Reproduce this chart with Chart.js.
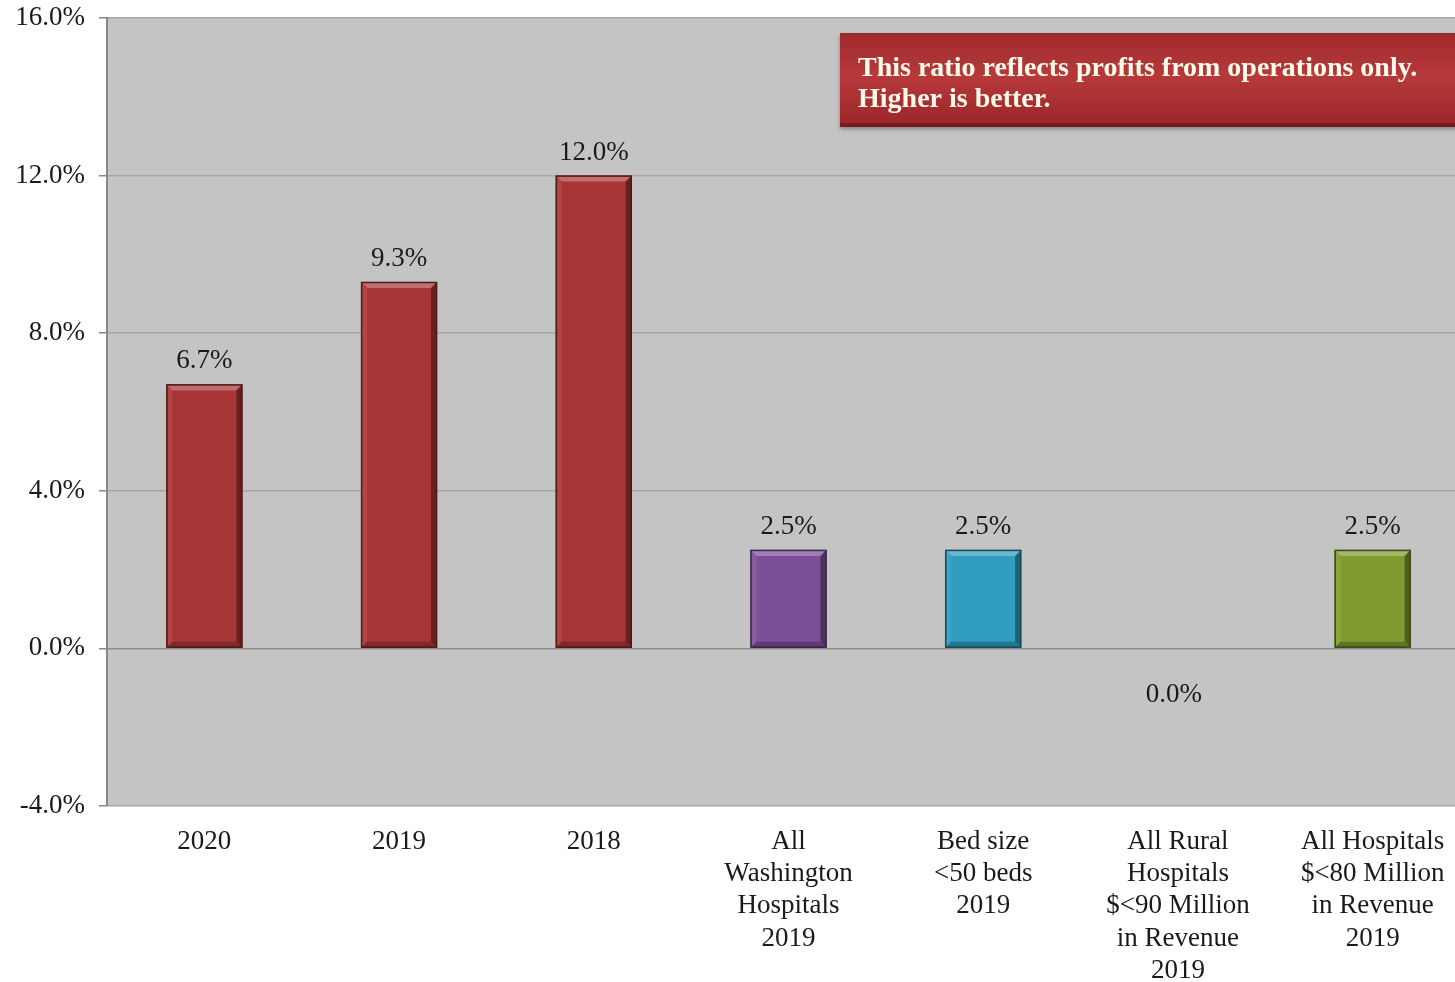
<!DOCTYPE html>
<html>
<head>
<meta charset="utf-8">
<script src="https://cdn.jsdelivr.net/npm/chart.js@4.4.1/dist/chart.umd.min.js"></script>
<style>
  html, body { margin: 0; padding: 0; background: #ffffff; overflow: hidden; }
  #wrap { position: relative; width: 1470px; height: 982px; }
  #chart { display: block; }
</style>
</head>
<body>
<div id="wrap"><canvas id="chart" width="1470" height="982"></canvas></div>
<script>
// Operating margin by year and by peer group
const categories = [
  ['2020'],
  ['2019'],
  ['2018'],
  ['All', 'Washington', 'Hospitals', '2019'],
  ['Bed size', '<50 beds', '2019'],
  ['All Rural', 'Hospitals', '$<90 Million', 'in Revenue', '2019'],
  ['All Hospitals', '$<80 Million', 'in Revenue', '2019']
];
const operatingMargin = [6.7, 9.3, 12.0, 2.5, 2.5, 0.0, 2.5];
const barColors = ['#a83535', '#a83535', '#a83535', '#7c4f99', '#2f9dc0', '#b03a3a', '#809b30'];
const yTickValues = [-4, 0, 4, 8, 12, 16];
const noteLines = ['This ratio reflects profits from operations only.', 'Higher is better.'];

const SERIF = '"Liberation Serif", "Times New Roman", serif';

function shade(hex, amt) {
  const n = parseInt(hex.slice(1), 16);
  let r = (n >> 16) & 255, g = (n >> 8) & 255, b = n & 255;
  const f = c => Math.max(0, Math.min(255, Math.round(amt >= 0 ? c + (255 - c) * amt : c * (1 + amt))));
  return `rgb(${f(r)},${f(g)},${f(b)})`;
}

// Grey plot background
const plotBackground = {
  id: 'plotBackground',
  beforeDraw(chart) {
    const { ctx, chartArea: a } = chart;
    ctx.save();
    ctx.fillStyle = '#c4c4c4';
    ctx.fillRect(a.left, a.top, a.right - a.left, a.bottom - a.top);
    ctx.restore();
  }
};

// Bevelled edges on each bar
const bevel = {
  id: 'bevel',
  afterDatasetsDraw(chart) {
    const { ctx } = chart;
    const meta = chart.getDatasetMeta(0);
    meta.data.forEach((bar, i) => {
      const { x, y, base, width } = bar.getProps(['x', 'y', 'base', 'width'], true);
      const h = base - y;
      if (h < 1) return;
      const col = barColors[i];
      const l = x - width / 2, r = x + width / 2, t = y, b = base;
      const e = 6;
      ctx.save();
      ctx.fillStyle = shade(col, 0.28);
      ctx.beginPath();
      ctx.moveTo(l, t); ctx.lineTo(r, t); ctx.lineTo(r - e, t + e); ctx.lineTo(l + e, t + e); ctx.closePath();
      ctx.fill();
      ctx.fillStyle = shade(col, 0.08);
      ctx.beginPath();
      ctx.moveTo(l, t); ctx.lineTo(l + e, t + e); ctx.lineTo(l + e, b - e); ctx.lineTo(l, b); ctx.closePath();
      ctx.fill();
      ctx.fillStyle = shade(col, -0.38);
      ctx.beginPath();
      ctx.moveTo(r, t); ctx.lineTo(r, b); ctx.lineTo(r - e, b - e); ctx.lineTo(r - e, t + e); ctx.closePath();
      ctx.fill();
      ctx.fillStyle = shade(col, -0.25);
      ctx.beginPath();
      ctx.moveTo(l, b); ctx.lineTo(r, b); ctx.lineTo(r - e, b - e); ctx.lineTo(l + e, b - e); ctx.closePath();
      ctx.fill();
      ctx.strokeStyle = shade(col, -0.55);
      ctx.lineWidth = 1.5;
      ctx.strokeRect(l + 0.5, t + 0.5, width - 1, h - 1);
      ctx.restore();
    });
  }
};

// Value labels above each bar (below the baseline for a zero value)
const valueLabels = {
  id: 'valueLabels',
  afterDatasetsDraw(chart) {
    const { ctx } = chart;
    const meta = chart.getDatasetMeta(0);
    ctx.save();
    ctx.font = '27px ' + SERIF;
    ctx.fillStyle = '#1a1a1a';
    ctx.textAlign = 'center';
    ctx.textBaseline = 'alphabetic';
    meta.data.forEach((bar, i) => {
      const v = operatingMargin[i];
      const { x, y } = bar.getProps(['x', 'y'], true);
      const txt = v.toFixed(1) + '%';
      if (v > 0) ctx.fillText(txt, x, y - 16);
      else ctx.fillText(txt, x - 4, y + 54);
    });
    ctx.restore();
  }
};

// Note box in the upper right
const noteBox = {
  id: 'noteBox',
  afterDraw(chart) {
    const { ctx, chartArea: a } = chart;
    const bx = 840, by = 33, bw = a.right - bx, bh = 94;
    ctx.save();
    ctx.shadowColor = 'rgba(0,0,0,0.35)';
    ctx.shadowBlur = 4;
    ctx.shadowOffsetY = 2;
    const g = ctx.createLinearGradient(0, by, 0, by + bh);
    g.addColorStop(0, '#9e2a2c');
    g.addColorStop(0.45, '#b7393b');
    g.addColorStop(1, '#9a2629');
    ctx.fillStyle = g;
    ctx.fillRect(bx, by, bw, bh);
    ctx.shadowColor = 'transparent';
    ctx.fillStyle = '#7a1a1c';
    ctx.fillRect(bx, by + bh - 4, bw, 4);
    ctx.fillStyle = '#fffbea';
    ctx.font = 'bold 28px ' + SERIF;
    ctx.textAlign = 'left';
    ctx.textBaseline = 'alphabetic';
    ctx.fillText(noteLines[0], 858, 76);
    ctx.fillText(noteLines[1], 858, 107);
    ctx.restore();
  }
};

new Chart(document.getElementById('chart'), {
  type: 'bar',
  data: {
    labels: categories,
    datasets: [{
      data: operatingMargin,
      backgroundColor: barColors,
      borderWidth: 0,
      barPercentage: 0.39,
      categoryPercentage: 1
    }]
  },
  options: {
    responsive: false,
    animation: false,
    devicePixelRatio: 1,
    layout: { padding: { top: 18, left: 0, right: 0, bottom: 0 } },
    plugins: { legend: { display: false }, tooltip: { enabled: false } },
    scales: {
      x: {
        grid: { display: false, drawTicks: false },
        border: { display: false },
        ticks: {
          color: '#1a1a1a',
          padding: 20,
          maxRotation: 0,
          autoSkip: false,
          font: { family: SERIF, size: 27, lineHeight: 1.19 }
        },
        afterFit(scale) { scale.height = 176; scale.paddingLeft = 0; scale.paddingRight = 0; }
      },
      y: {
        min: -4,
        max: 16,
        afterBuildTicks(scale) { scale.ticks = yTickValues.map(v => ({ value: v })); },
        grid: {
          color: ctx => ctx.tick && ctx.tick.value === 0 ? '#8c8c8c' : '#a6a6a6',
          lineWidth: 1.5,
          tickLength: 8,
          tickColor: '#888888'
        },
        border: { display: true, color: '#888888', width: 2 },
        ticks: {
          color: '#1a1a1a',
          padding: 14,
          font: { family: SERIF, size: 27 },
          callback: v => Number(v).toFixed(1) + '%'
        },
        afterFit(scale) { scale.width = 107; scale.paddingTop = 0; scale.paddingBottom = 0; }
      }
    }
  },
  plugins: [plotBackground, bevel, valueLabels, noteBox]
});
</script>
</body>
</html>
